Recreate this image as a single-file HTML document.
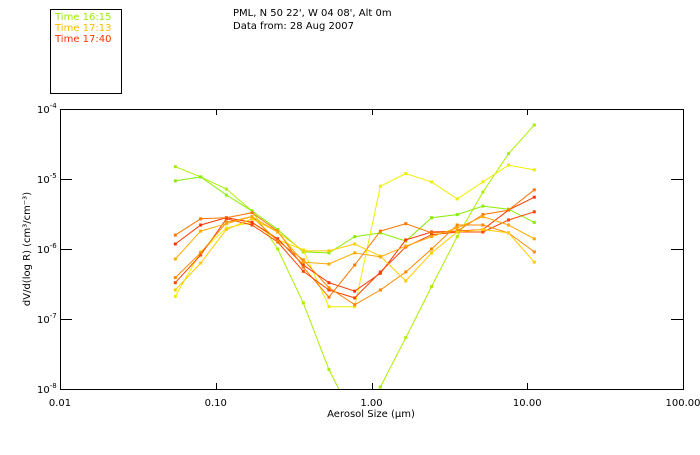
<!DOCTYPE html>
<html><head><meta charset="utf-8"><style>
body{margin:0;background:#fff;width:700px;height:450px;overflow:hidden}
svg{font-family:"DejaVu Sans","Liberation Sans",sans-serif}
</style></head><body>
<svg width="700" height="450">
<g id="legend">
<rect x="50.5" y="9.5" width="71" height="84" fill="none" stroke="#000"/>
<text x="55" y="20" font-size="10" fill="#99ee00">Time 16:15</text>
<text x="55" y="31" font-size="10" fill="#ffbb00">Time 17:13</text>
<text x="55" y="42" font-size="10" fill="#ff3300">Time 17:40</text>
</g>
<text x="233" y="16" font-size="10">PML, N 50 22', W 04 08', Alt 0m</text>
<text x="233" y="29" font-size="10">Data from: 28 Aug 2007</text>
<defs><clipPath id="pc"><rect x="60" y="109" width="623" height="280"/></clipPath></defs>
<g id="axes"></g>
<g id="series" clip-path="url(#pc)"></g>
<rect x="60.5" y="109.5" width="623" height="280" fill="none" stroke="#000"/>
<text x="371" y="417" font-size="10" text-anchor="middle">Aerosol Size (μm)</text>
<text transform="translate(30,249) rotate(-90)" font-size="10" text-anchor="middle">dV/d(log R) (cm³/cm⁻³)</text>
</svg>
<script>
const sizes=[0.055,0.080,0.117,0.171,0.250,0.365,0.533,0.780,1.14,1.66,2.43,3.55,5.19,7.58,11.1];
const xTicks=[0.01,0.1,1,10,100];
const xTickLabels=["0.01","0.10","1.00","10.00","100.00"];
const yTicks=[1e-4,1e-5,1e-6,1e-7,1e-8];
const yTickExps=["-4","-5","-6","-7","-8"];
const seriesColors=["#aaee00","#88ee00","#eeee00","#ff3300","#ff7700","#ff4400","#ff8800","#ffcc00","#ffaa00"];
const sA=[1.5e-5,1.07e-5,7.2e-6,3.5e-6,1.0e-6,1.7e-7,1.9e-8,3.6e-9,1.07e-8,5.4e-8,2.9e-7,1.5e-6,6.5e-6,2.3e-5,5.9e-5];
const sB=[9.4e-6,1.07e-5,5.9e-6,3.5e-6,1.9e-6,9.1e-7,8.8e-7,1.5e-6,1.7e-6,1.3e-6,2.8e-6,3.1e-6,4.1e-6,3.7e-6,2.4e-6];
const sC=[2.1e-7,9.1e-7,2.0e-6,2.4e-6,1.35e-6,9.7e-7,1.5e-7,1.5e-7,7.9e-6,1.2e-5,9.1e-6,5.2e-6,9.1e-6,1.58e-5,1.35e-5];
const sD=[1.18e-6,2.2e-6,2.8e-6,2.4e-6,1.4e-6,5.9e-7,3.3e-7,2.5e-7,4.5e-7,1.35e-6,1.75e-6,1.8e-6,1.9e-6,3.6e-6,5.5e-6];
const sE=[1.58e-6,2.7e-6,2.8e-6,3.3e-6,1.8e-6,5.5e-7,2.05e-7,5.9e-7,1.8e-6,2.3e-6,1.7e-6,1.8e-6,3.1e-6,3.6e-6,7.0e-6];
const sF=[3.3e-7,8.2e-7,2.7e-6,2.2e-6,1.26e-6,4.8e-7,2.6e-7,2.0e-7,4.7e-7,1.07e-6,1.6e-6,1.75e-6,1.75e-6,2.6e-6,3.4e-6];
const sG=[3.9e-7,8.8e-7,2.4e-6,2.9e-6,1.3e-6,7.0e-7,2.8e-7,1.6e-7,2.6e-7,4.7e-7,1.0e-6,2.2e-6,2.2e-6,1.7e-6,9.1e-7];
const sH=[2.6e-7,6.3e-7,1.9e-6,2.7e-6,1.75e-6,9.4e-7,9.4e-7,1.18e-6,7.9e-7,3.5e-7,8.8e-7,1.75e-6,1.9e-6,1.7e-6,6.5e-7];
const sI=[7.2e-7,1.8e-6,2.3e-6,2.9e-6,1.75e-6,6.5e-7,6.1e-7,8.8e-7,7.7e-7,1.1e-6,1.5e-6,2.0e-6,2.9e-6,2.2e-6,1.4e-6];
const allSeries=[sA,sB,sC,sD,sE,sF,sG,sH,sI];
const X0=60,X1=683,Y0=109,Y1=389;
function xs(v){return X0+(Math.log10(v)+2)/4*(X1-X0);}
function ys(v){return Y0+(-4-Math.log10(v))/4*(Y1-Y0);}
const NS="http://www.w3.org/2000/svg";
const ax=document.getElementById('axes');
function mk(t,a,p){const e=document.createElementNS(NS,t);for(const k in a)e.setAttribute(k,a[k]);p.appendChild(e);return e;}
xTicks.forEach((v,i)=>{const x=Math.round(xs(v))+0.5;
 const t1=mk('line',{x1:x,x2:x,y1:Y0,y2:Y0+6,stroke:'#000'},ax);
 
 
 const t2=mk('line',{x1:x,x2:x,y1:Y1,y2:Y1-6,stroke:'#000'},ax);
 
 
 const tx=mk('text',{x:xs(v),y:406,'font-size':10,'text-anchor':'middle'},ax);tx.textContent=xTickLabels[i];
 
 
});
yTicks.forEach((v,i)=>{const y=Math.round(ys(v))+0.5;
 const t1=mk('line',{x1:X0,x2:X0+12,y1:y,y2:y,stroke:'#000'},ax);
 
 
 const t2=mk('line',{x1:X1,x2:X1-12,y1:y,y2:y,stroke:'#000'},ax);
 
 
 const tx=mk('text',{x:37,y:ys(v)+4,'font-size':10},ax);
 tx.innerHTML='10<tspan font-size="7" dy="-5">'+yTickExps[i]+'</tspan>';
 
 
});
const sg=document.getElementById('series');
allSeries.forEach((s,si)=>{const c=seriesColors[si];
 const pts=s.map((v,i)=>xs(sizes[i]).toFixed(1)+','+ys(v).toFixed(1)).join(' ');
 const pl=mk('polyline',{points:pts,fill:'none',stroke:c,'stroke-width':1},sg);
 
 
 s.forEach((v,i)=>{const r=mk('rect',{x:xs(sizes[i])-1.5,y:ys(v)-1.5,width:3,height:3,fill:c},sg);
  
  });
});
</script>
</body></html>
